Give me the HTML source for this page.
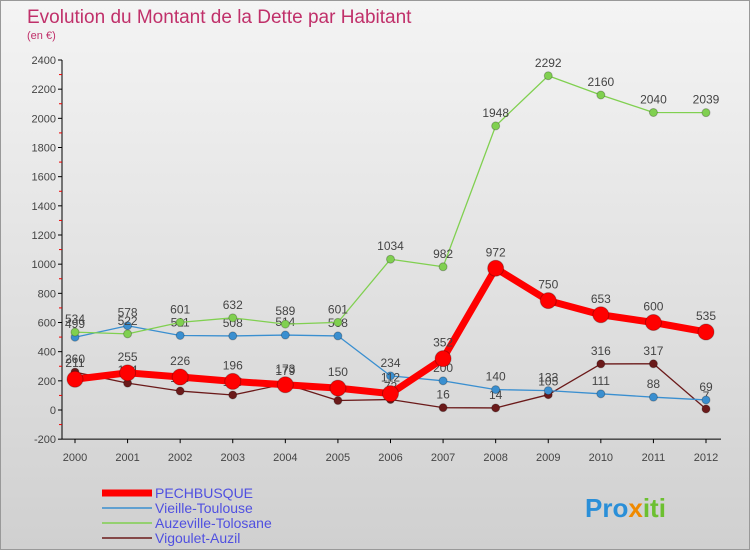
<!DOCTYPE html>
<html><head><meta charset="utf-8"><style>
body{margin:0;width:750px;height:550px;overflow:hidden;font-family:"Liberation Sans",sans-serif}
#wrap{position:relative;width:748px;height:548px;border:1px solid #999;background:linear-gradient(#f4f4f4,#d0d0d0)}
</style></head><body>
<div id="wrap">
<svg id="svg" width="748" height="548">
<text x="26" y="22" font-size="19" fill="#c0306a">Evolution du Montant de la Dette par Habitant</text>
<text x="26" y="38" font-size="11" fill="#c0306a">(en €)</text>
<g id="axes"></g><g id="series"></g><g id="legend"></g>
<text x="584" y="516" font-size="26" font-weight="bold" fill="#2a8fd8">Pro<tspan fill="#f08a00">x</tspan><tspan fill="#6cc030">iti</tspan></text>
</svg></div>
<script>
const years=[2000,2001,2002,2003,2004,2005,2006,2007,2008,2009,2010,2011,2012];
const pech=[211,255,226,196,173,150,112,352,972,750,653,600,535];
const vieille=[499,578,511,508,514,508,234,200,140,133,111,88,69];
const auze=[534,522,601,632,589,601,1034,982,1948,2292,2160,2040,2039];
const vigo=[260,184,130,103,179,65,72,16,14,105,316,317,7];
const yTicks=[-200,0,200,400,600,800,1000,1200,1400,1600,1800,2000,2200,2400];
const names=["PECHBUSQUE","Vieille-Toulouse","Auzeville-Tolosane","Vigoulet-Auzil"];
const NS="http://www.w3.org/2000/svg";
const X=i=>74+i*(705-74)/(years.length-1);
const Y=v=>409-(v)*(409-59)/2400;
function mk(t,a,p){const e=document.createElementNS(NS,t);for(const k in a)e.setAttribute(k,a[k]);p.appendChild(e);return e;}
const ax=document.getElementById('axes');
let yl=mk('line',{x1:61,y1:Y(-200),x2:61,y2:Y(2400),stroke:'#000'},ax);

let xl=mk('line',{x1:61,y1:Y(-200),x2:720,y2:Y(-200),stroke:'#000'},ax);

yTicks.forEach((v,i)=>{mk('line',{x1:57,y1:Y(v),x2:61,y2:Y(v),stroke:'#000'},ax);
 if(i<yTicks.length-1)mk('line',{x1:58,y1:Y(v+100),x2:61,y2:Y(v+100),stroke:'#e00'},ax);
 const t=mk('text',{x:55,y:Y(v)+4,'font-size':11,fill:'#444','text-anchor':'end'},ax);t.textContent=v;
 });
years.forEach((y,i)=>{mk('line',{x1:X(i),y1:Y(-200),x2:X(i),y2:Y(-200)+4,stroke:'#000'},ax);
 const t=mk('text',{x:X(i),y:Y(-200)+22,'font-size':11,fill:'#444','text-anchor':'middle'},ax);t.textContent=y;
 });
const sg=document.getElementById('series');
function draw(data,color,w,r,name){const g=mk('g',{},sg);
 
 mk('polyline',{points:data.map((v,i)=>X(i)+','+Y(v)).join(' '),fill:'none',stroke:color,'stroke-width':w,'stroke-linejoin':'round'},g);
 data.forEach((v,i)=>{const c=mk('circle',{cx:X(i),cy:Y(v),r:r,fill:color,stroke:'rgba(0,0,0,0.25)'},g);
  
  const t=mk('text',{x:X(i),y:Y(v)-9-(r>5?3:0),'font-size':12,fill:'#444','text-anchor':'middle'},g);t.textContent=v;
  });}
draw(vigo,'#6b1a1a',1.3,4,'series-vigoulet-auzil');
draw(vieille,'#3a8fd0',1.3,4,'series-vieille-toulouse');
draw(auze,'#80d050',1.3,4,'series-auzeville-tolosane');
draw(pech,'#ff0000',7,8,'series-pechbusque');
const lg=document.getElementById('legend');const cols=['#ff0000','#3a8fd0','#80d050','#6b1a1a'],ws=[7,1.5,1.5,1.5];
names.forEach((n,i)=>{const y=492+i*15;const g=mk('g',{},lg);
 
 mk('line',{x1:101,y1:y,x2:151,y2:y,stroke:cols[i],'stroke-width':ws[i]},g);
 const t=mk('text',{x:154,y:y+5,'font-size':14,fill:'#5050e0'},g);t.textContent=n;});
</script></body></html>
